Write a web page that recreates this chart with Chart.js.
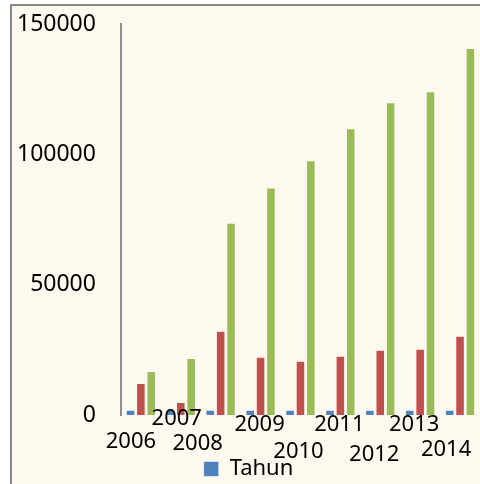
<!DOCTYPE html>
<html>
<head>
<meta charset="utf-8">
<script src="https://cdn.jsdelivr.net/npm/chart.js@4"></script>
<style>
  html, body { margin: 0; padding: 0; width: 480px; height: 484px; overflow: hidden; background: #fff; }
  #box {
    position: absolute; left: 10px; top: 4px;
    width: 470px; height: 480px; overflow: hidden;
    border-left: 2px solid #8a8a8a; border-top: 2px solid #8a8a8a;
    background: #fef9ef;
  }
  #graphCanvas { display: block; }
</style>
</head>
<body>
<div id="box"><canvas id="graphCanvas" width="500" height="486"></canvas></div>
<script>
// data
const years = ['2006', '2007', '2008', '2009', '2010', '2011', '2012', '2013', '2014'];
const tahun = [2006, 2007, 2008, 2009, 2010, 2011, 2012, 2013, 2014];
const seriesRed = [12300, 5000, 32300, 22300, 20800, 22700, 25000, 25400, 30400];
const seriesGreen = [16900, 21900, 73800, 87300, 97700, 110000, 120000, 124200, 140800];
const yTicks = [0, 50000, 100000, 150000];

// label offsets (px) so the year labels stagger like the original
const labelDx = [-10, -4, -23, -1, -2, -1, -6, -6, -14];
const labelDy = [27, 4, 29, 10, 37, 10, 40, 10, 35];

const FONT = '"Noto Sans", sans-serif';

const yearLabels = {
  id: 'yearLabels',
  afterDraw(chart) {
    const ctx = chart.ctx;
    const xs = chart.scales.x;
    const bottom = chart.chartArea.bottom;
    ctx.save();
    ctx.font = '22px ' + FONT;
    ctx.fillStyle = '#000';
    ctx.textAlign = 'center';
    ctx.textBaseline = 'middle';
    years.forEach((y, i) => {
      ctx.fillText(y, xs.getPixelForTick(i) + labelDx[i], bottom + labelDy[i]);
    });
    ctx.restore();
  }
};

const ctx = document.getElementById('graphCanvas');

new Chart(ctx, {
  type: 'bar',
  data: {
    labels: years,
    datasets: [
      { label: 'Tahun', data: tahun, backgroundColor: '#4f81bd', borderColor: 'rgba(255,255,255,0.5)', borderWidth: 1 },
      { label: 'Seri 2', data: seriesRed, backgroundColor: '#c0504d', borderColor: 'rgba(255,255,255,0.5)', borderWidth: 1 },
      { label: 'Seri 3', data: seriesGreen, backgroundColor: '#9bbb59', borderColor: 'rgba(255,255,255,0.5)', borderWidth: 1 }
    ]
  },
  options: {
    responsive: false,
    animation: false,
    categoryPercentage: 0.78,
    barPercentage: 0.92,
    layout: { padding: { left: 5, right: 32, top: 18, bottom: 2 } },
    scales: {
      x: {
        grid: { display: false, drawTicks: false },
        border: { display: false },
        ticks: { display: false },
        afterFit: (s) => { s.height = 40; }
      },
      y: {
        min: 0,
        max: 150000,
        afterBuildTicks: (axis) => { axis.ticks = yTicks.map(v => ({ value: v })); },
        // tick marks are invisible, only used as the gap between labels and axis
        grid: { display: false, drawTicks: true, tickLength: 25 },
        border: { display: true, color: '#8c8c8c', width: 2 },
        ticks: { padding: 0, color: '#000', font: { family: FONT, size: 23 }, callback: (v) => String(v) }
      }
    },
    plugins: {
      tooltip: { enabled: false },
      legend: {
        position: 'bottom',
        labels: {
          filter: (item) => item.text === 'Tahun',
          color: '#000',
          boxWidth: 15,
          boxHeight: 15,
          padding: 3,
          font: { family: FONT, size: 22 }
        }
      }
    }
  },
  plugins: [yearLabels]
});
</script>
</body>
</html>
